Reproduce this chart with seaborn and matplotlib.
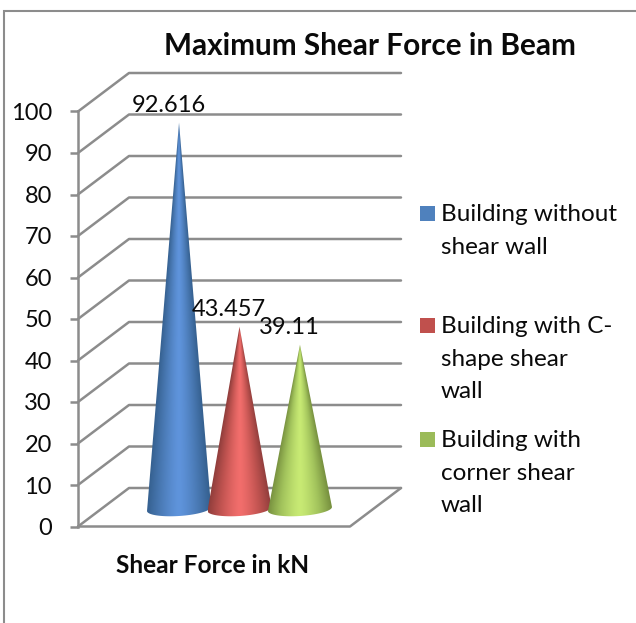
import numpy as np
import pandas as pd
import seaborn as sns
import matplotlib.pyplot as plt
from matplotlib.colors import LinearSegmentedColormap
from matplotlib.patches import PathPatch, Rectangle
from matplotlib.path import Path

category = ['Shear Force in kN']
series = ['Building without\nshear wall', 'Building with C-\nshape shear\nwall', 'Building with\ncorner shear\nwall']
values = [92.616, 43.457, 39.11]
value_labels = ['92.616', '43.457', '39.11']
y_ticks = list(range(0, 101, 10))
title = 'Maximum Shear Force in Beam'

legend_colors = ['#4f81bd', '#c0504d', '#9bbb59']
cone_colors = [['#35608f', '#4a7ab5', '#5f94dc'],
               ['#8f3d3b', '#c25451', '#f26e6c'],
               ['#768f3e', '#a2c35c', '#c8ea74']]
grey = '#8c8c8c'
line_w = 1.8

sns.set_theme(style='white')
plt.rcParams['font.family'] = ['Lato', 'DejaVu Sans']
plt.rcParams['text.color'] = '#0a0a0a'

W, H = 636, 623
fig = plt.figure(figsize=(W / 100, H / 100), dpi=100, facecolor='white')


def px_axes(left, top, width, height):
    return fig.add_axes([left / W, 1 - (top + height) / H, width / W, height / H])


# background layer in pixel coordinates: frame, walls, floor, text
bg = px_axes(0, 0, W, H)
bg.set_xlim(0, W)
bg.set_ylim(H, 0)
bg.axis('off')

x0, x1 = 78, 350
y_zero, y_top = 526.5, 111.5
dx, dy = 51, 38.5

bg.plot([4, 4, W], [H, 10.5, 10.5], color=grey, lw=1.5, solid_joinstyle='miter')
for v in y_ticks:
    y = y_zero + (y_top - y_zero) * v / 100
    bg.plot([x0, x0 + dx, x1 + dx], [y, y - dy, y - dy], color=grey, lw=line_w)
bg.plot([x0, x1, x1 + dx], [y_zero, y_zero, y_zero - dy], color=grey, lw=line_w)

# front axis with the real y ticks
ax = px_axes(x0, y_top, x1 - x0, y_zero - y_top)
ax.patch.set_alpha(0)
ax.set_ylim(0, 100)
ax.set_yticks(y_ticks)
ax.set_xticks([])
ax.tick_params(axis='y', left=True, length=5.8, width=line_w, color=grey, pad=13, labelsize=17, labelcolor='#0a0a0a')
for name, spine in ax.spines.items():
    spine.set_visible(name == 'left')
    spine.set_color(grey)
    spine.set_linewidth(line_w)

# cones stand half way into the chart depth, axes run a bit below zero for the round base
units_y = (y_zero - y_top) / 100
below = 12
cones = px_axes(x0 + 25.5, y_top - 19.5, x1 - x0, y_zero - y_top + below * units_y)
cones.patch.set_alpha(0)
df = pd.DataFrame({'category': category * 3, 'series': series, 'value': values})
sns.barplot(data=df, x='category', y='value', hue='series', hue_order=series, width=0.667, gap=0,
            legend=False, ax=cones)
cones.axis('off')

units_x = (x1 - x0)
for i, container in enumerate(cones.containers):
    bar = container[0]
    bar.set_visible(False)
    cx = bar.get_x() + bar.get_width() / 2
    val = bar.get_height()
    half = 32 / units_x
    tilt = 2 / units_y
    drop = 7 / units_y
    shift = 2 / units_y

    t = np.linspace(0, np.pi, 40)
    ex = cx + half * np.cos(t)
    ey = -shift - drop * np.sin(t) + tilt * np.cos(t)
    verts = [(cx, val)] + list(zip(ex, ey)) + [(cx, val)]
    outline = Path(verts)

    gx = np.linspace(cx - half, cx + half, 260)
    gy = np.linspace(-below, val, 520)
    xx, yy = np.meshgrid(gx, gy)
    radius = np.clip(half * (val - yy) / val, half * 0.02, half)
    shade = 1 - np.clip(np.abs(xx - cx) / radius, 0, 1) ** 1.3
    cmap = LinearSegmentedColormap.from_list('cone', cone_colors[i])
    img = cones.imshow(shade, extent=[cx - half, cx + half, -below, val], origin='lower', aspect='auto',
                       cmap=cmap, vmin=0, vmax=1, zorder=3 + i, interpolation='bilinear')
    img.set_clip_path(PathPatch(outline, transform=cones.transData))

    cones.annotate(value_labels[i], (cx, val), xytext=(-7.6, 8), textcoords='offset points',
                   ha='center', va='baseline', fontsize=17, color='#0a0a0a', zorder=10,
                   annotation_clip=False)
cones.set_xlim(-0.5, 0.5)
cones.set_ylim(-below, 100)

bg.text(370, 55, title, ha='center', va='baseline', fontsize=21.4, fontweight='bold')
bg.text(213, 573, category[0], ha='center', va='baseline', fontsize=17.6, fontweight='bold')

# legend, wrapped like the original with the swatch on the first line
legend_base = [221, 333, 447]
for name, color, base in zip(series, legend_colors, legend_base):
    bg.add_patch(Rectangle((420, base - 15), 15, 15, facecolor=color, edgecolor='none'))
    for j, line in enumerate(name.split('\n')):
        bg.text(441, base + j * 32.5, line, ha='left', va='baseline', fontsize=17.5)

fig.savefig('out.png', dpi=100, facecolor='white')
